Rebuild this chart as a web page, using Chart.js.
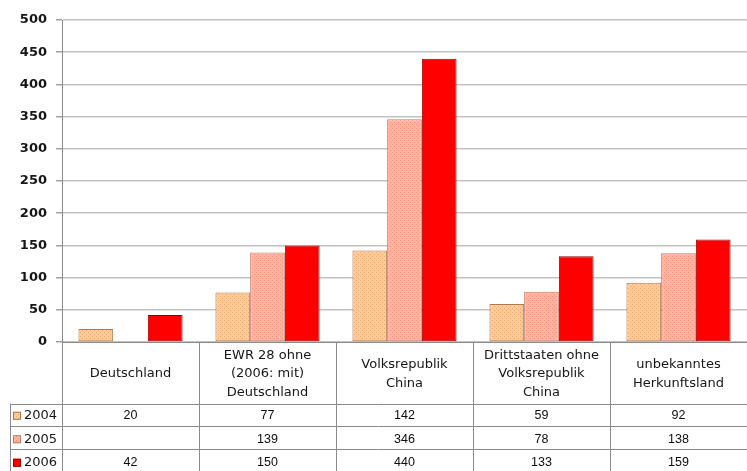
<!DOCTYPE html>
<html>
<head>
<meta charset="utf-8">
<script src="https://cdn.jsdelivr.net/npm/chart.js@4/dist/chart.umd.min.js"></script>
<style>
  html, body { margin: 0; padding: 0; background: #ffffff; overflow: hidden; }
  #wrap { width: 747px; height: 471px; }
</style>
</head>
<body>
<div id="wrap"><canvas id="c" width="747" height="471"></canvas></div>
<script>
// Herkunftsländer, one text line per entry
const categories = [
  ["Deutschland"],
  ["EWR 28 ohne", "(2006: mit)", "Deutschland"],
  ["Volksrepublik", "China"],
  ["Drittstaaten ohne", "Volksrepublik", "China"],
  ["unbekanntes", "Herkunftsland"]
];
const years = ["2004", "2005", "2006"];
const values2004 = [20, 77, 142, 59, 92];
const values2005 = [null, 139, 346, 78, 138];
const values2006 = [42, 150, 440, 133, 159];
const yMin = 0, yMax = 500, yStep = 50;

// small dotted fills for the first two series
function dotPattern(base, dot) {
  const p = document.createElement('canvas');
  p.width = 4; p.height = 4;
  const g = p.getContext('2d');
  g.fillStyle = base; g.fillRect(0, 0, 4, 4);
  g.fillStyle = dot;
  g.fillRect(0, 0, 1, 1); g.fillRect(2, 2, 1, 1);
  return g.createPattern(p, 'repeat');
}
const fill2004 = dotPattern('#FFCC99', '#EEAA72');
const fill2005 = dotPattern('#FFB59F', '#FA917E');
const fill2006 = '#FF0000';
const fills = [fill2004, fill2005, fill2006];
const borders = ['#A97A4C', '#B9806E', '#9A0000'];
const seriesValues = [values2004, values2005, values2006];

const gridColor = '#C2C2C2';
const tableLine = '#8A8A8A';
const textColor = '#161616';

// data table under the plot, aligned with the category axis
const tablePlugin = {
  id: 'dataTable',
  afterDraw(chart) {
    const ctx = chart.ctx;
    const a = chart.chartArea;
    const xs = chart.scales.x;
    const n = categories.length;
    const colW = (a.right - a.left) / n;
    const bottom = chart.height;
    const headerH = 61.5;
    const rowH = 22.5;
    const rowTop = a.bottom + headerH;
    const tableLeft = 10;

    ctx.save();
    ctx.strokeStyle = tableLine;
    ctx.lineWidth = 1;
    // vertical column separators, including the axis continuation
    for (let k = 0; k < n; k++) {
      const x = Math.round(a.left + k * colW) + 0.5;
      ctx.beginPath(); ctx.moveTo(x, a.bottom); ctx.lineTo(x, bottom); ctx.stroke();
    }
    // legend column left edge
    ctx.beginPath(); ctx.moveTo(tableLeft + 0.5, rowTop); ctx.lineTo(tableLeft + 0.5, bottom); ctx.stroke();
    // row separators
    for (let r = 0; r <= years.length; r++) {
      const y = Math.round(rowTop + r * rowH) + 0.5;
      ctx.beginPath(); ctx.moveTo(tableLeft, y); ctx.lineTo(a.right, y); ctx.stroke();
    }

    // header texts
    ctx.fillStyle = textColor;
    ctx.textAlign = 'center';
    ctx.textBaseline = 'middle';
    ctx.font = '13px "DejaVu Sans"';
    const headCenter = a.bottom + 32;
    const lineH = 18.5;
    categories.forEach((lines, i) => {
      const cx = xs.getPixelForValue(i);
      const start = headCenter - (lines.length - 1) / 2 * lineH;
      lines.forEach((t, j) => ctx.fillText(t, cx, start + j * lineH));
    });

    // value rows
    ctx.font = '12.5px "Liberation Sans"';
    ctx.fillStyle = '#0c0c0c';
    seriesValues.forEach((vals, r) => {
      const cy = rowTop + r * rowH + rowH / 2 + 1 + r;
      vals.forEach((v, i) => {
        if (v !== null) ctx.fillText(String(v), xs.getPixelForValue(i), cy);
      });
    });

    // legend keys
    ctx.textAlign = 'left';
    ctx.font = '13px "DejaVu Sans"';
    years.forEach((yr, r) => {
      const cy = rowTop + r * rowH + rowH / 2 + 1 + r;
      ctx.fillStyle = fills[r];
      ctx.fillRect(13, cy - 4, 8, 8);
      ctx.strokeStyle = borders[r];
      ctx.strokeRect(13.5, cy - 3.5, 7, 7);
      ctx.fillStyle = textColor;
      ctx.fillText(yr, 24, cy);
    });
    ctx.restore();
  }
};

new Chart(document.getElementById('c'), {
  type: 'bar',
  data: {
    labels: categories.map(l => l.join(' ')),
    datasets: years.map((yr, k) => ({
      label: yr,
      data: seriesValues[k],
      backgroundColor: fills[k],
      borderColor: borders[k],
      borderWidth: 1,
      borderSkipped: false,
      categoryPercentage: 0.76,
      barPercentage: 1.0
    }))
  },
  options: {
    responsive: false,
    devicePixelRatio: 1,
    animation: false,
    layout: { padding: { top: 20, right: 0, left: 0, bottom: 0 } },
    plugins: { legend: { display: false }, tooltip: { enabled: false } },
    scales: {
      x: {
        ticks: { display: false },
        grid: { display: false, drawTicks: false },
        border: { display: true, color: tableLine, width: 1 },
        afterFit(scale) { scale.height = 129; }
      },
      y: {
        min: yMin,
        max: yMax,
        ticks: {
          stepSize: yStep,
          color: textColor,
          padding: 9,
          font: { family: 'DejaVu Sans', size: 13, weight: 'bold' }
        },
        grid: { color: gridColor, lineWidth: 1.5, tickLength: 6, tickColor: '#A0A0A0' },
        border: { display: true, color: tableLine, width: 1 },
        afterFit(scale) { scale.width = 62; }
      }
    }
  },
  plugins: [tablePlugin]
});
</script>
</body>
</html>
